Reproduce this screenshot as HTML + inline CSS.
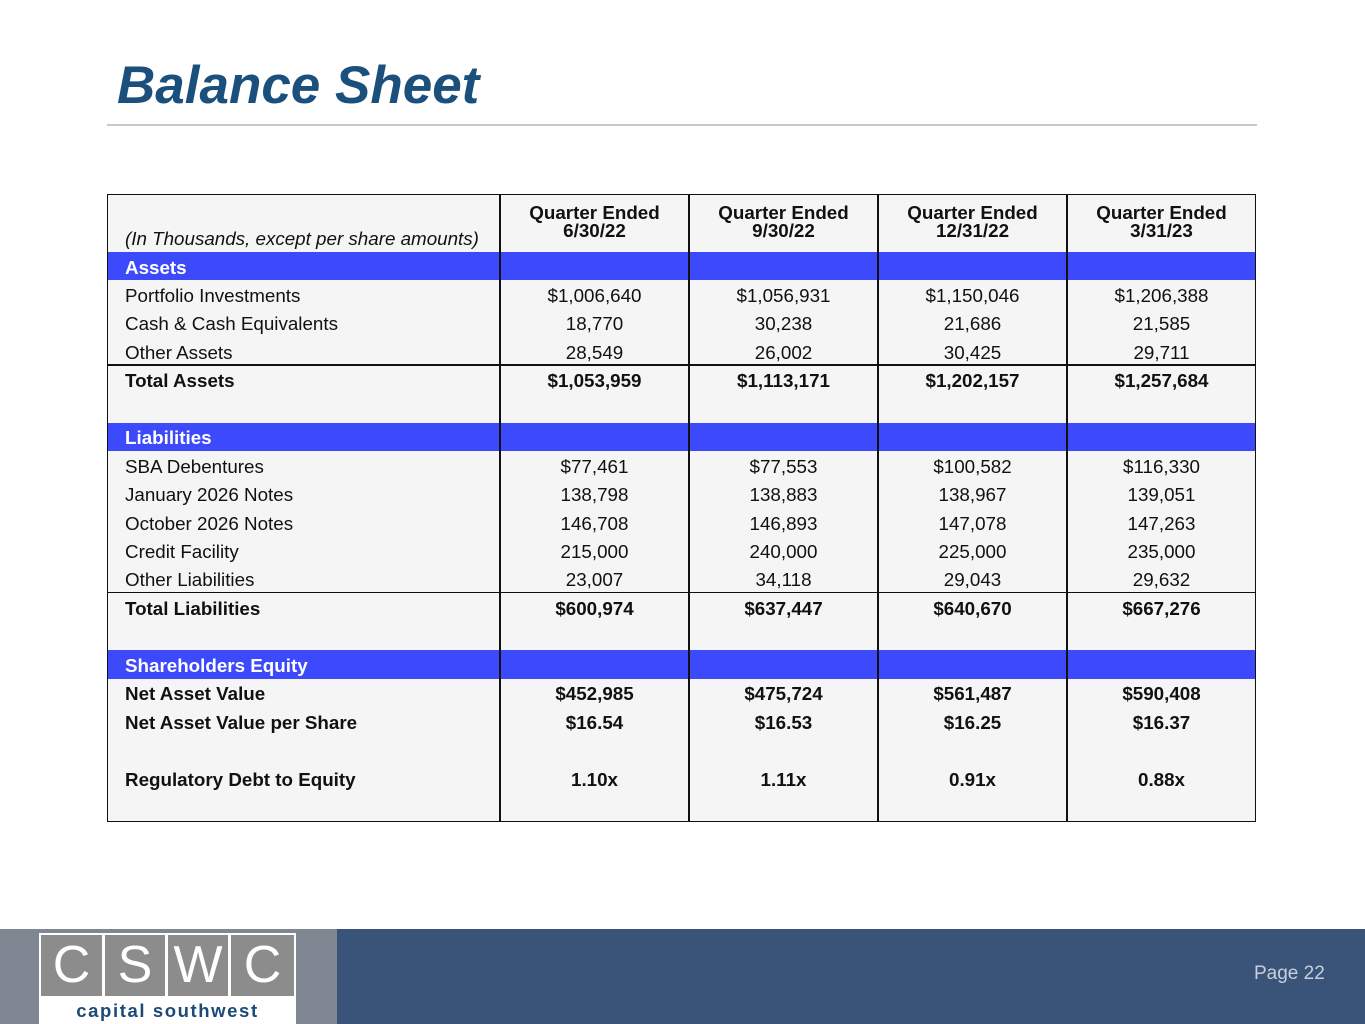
<!DOCTYPE html>
<html><head><meta charset="utf-8"><style>
html,body{margin:0;padding:0}
body{width:1365px;height:1024px;position:relative;background:#fff;font-family:"Liberation Sans",Arial,sans-serif;overflow:hidden}
.abs{position:absolute}
#title{left:117px;top:54px;font-size:53px;font-weight:bold;font-style:italic;color:#1b4f7c;line-height:64px;letter-spacing:0px}
#rule{left:107px;top:124px;width:1150px;height:2px;background:#c8c8c8}
#tbl{left:107px;top:194px;width:1147px;height:626px;background:#f5f5f5;border:1.5px solid #111}
.vl{position:absolute;top:0;width:1.5px;height:626px;background:#111}
.hl{position:absolute;left:0;width:1147px;height:1.5px;background:#111}
.band{position:absolute;left:0;width:1147px;background:#3d4afc}
.cell{position:absolute;font-size:18.8px;color:#111;white-space:nowrap;font-family:"Liberation Sans",Arial,sans-serif}
.hdr{position:absolute;top:9px;font-size:18.8px;font-weight:bold;text-align:center;line-height:18px;color:#111;font-family:"Liberation Sans",Arial,sans-serif}
#footer-l{left:0;top:929px;width:337px;height:95px;background:#7f8792}
#footer-r{left:337px;top:929px;width:1028px;height:95px;background:#3a5479}
#logo{left:39px;top:933px;width:257px;height:91px;background:#fff}
.lb{position:absolute;top:2px;height:61px;background:#8c8c8c;color:#fff;font-size:52px;font-weight:300;text-align:center;line-height:61px}
#logotxt{position:absolute;left:0;top:67px;width:257px;text-align:center;color:#1c4a78;font-size:18.5px;letter-spacing:1.6px;font-weight:bold}
#page{left:1254px;top:963px;color:#c7cfdc;font-size:19px}
</style></head><body>
<div id="title" class="abs">Balance Sheet</div>
<div id="rule" class="abs"></div>
<div id="tbl" class="abs"></div>
<div id="footer-l" class="abs"></div>
<div id="footer-r" class="abs"></div>
<div id="logo" class="abs">
<div class="lb" style="left:2px;width:61px">C</div>
<div class="lb" style="left:66px;width:60px">S</div>
<div class="lb" style="left:129px;width:60px">W</div>
<div class="lb" style="left:192px;width:63px">C</div>
<div id="logotxt">capital southwest</div>
</div>
<div id="page" class="abs">Page 22</div>
<script>
const headers=["6/30/22","9/30/22","12/31/22","3/31/23"];
const labels=["Assets","Portfolio Investments","Cash & Cash Equivalents","Other Assets","Total Assets","","Liabilities","SBA Debentures","January 2026 Notes","October 2026 Notes","Credit Facility","Other Liabilities","Total Liabilities","","Shareholders Equity","Net Asset Value","Net Asset Value per Share","","Regulatory Debt to Equity",""];
const kinds=["band","n","n","n","b","","band","n","n","n","n","n","b","","band","b","b","","b",""];
const values=[
null,
["$1,006,640","$1,056,931","$1,150,046","$1,206,388"],
["18,770","30,238","21,686","21,585"],
["28,549","26,002","30,425","29,711"],
["$1,053,959","$1,113,171","$1,202,157","$1,257,684"],
null,null,
["$77,461","$77,553","$100,582","$116,330"],
["138,798","138,883","138,967","139,051"],
["146,708","146,893","147,078","147,263"],
["215,000","240,000","225,000","235,000"],
["23,007","34,118","29,043","29,632"],
["$600,974","$637,447","$640,670","$667,276"],
null,null,
["$452,985","$475,724","$561,487","$590,408"],
["$16.54","$16.53","$16.25","$16.37"],
null,
["1.10x","1.11x","0.91x","0.88x"],
null];
const tbl=document.getElementById('tbl');
const colX=[392,581,770,959];const colW=189;const rowH=28.45;const top0=57;
function mk(cls,css,txt){const d=document.createElement('div');d.className=cls;d.style.cssText=css;if(txt!==undefined)d.textContent=txt;tbl.appendChild(d);return d;}
for(let i=0;i<labels.length;i++){
 const y=top0+i*rowH;
 if(kinds[i]==='band'){const b=mk('band','top:'+y+'px;height:'+rowH+'px');
  
  
  const t=mk('cell','left:17px;top:'+(y+4.5)+'px;color:#fff;font-weight:bold',labels[i]);
  
  }
 else if(labels[i]){const t=mk('cell','left:17px;top:'+(y+4.5)+'px;'+(kinds[i]==='b'?'font-weight:bold':''),labels[i]);
  
  }
 if(values[i]){for(let c=0;c<4;c++){const v=mk('cell','left:'+colX[c]+'px;width:'+colW+'px;text-align:center;top:'+(y+4.5)+'px;'+(kinds[i]==='b'?'font-weight:bold':''),values[i][c]);
  
  }}
}
for(let c=0;c<4;c++){const l=mk('vl','left:'+(colX[c]-1)+'px');
 
 
 const h=mk('hdr','left:'+colX[c]+'px;width:'+colW+'px');h.innerHTML='Quarter Ended<br>'+headers[c];
 
 }
const note=mk('cell','left:17px;top:33px;font-style:italic','(In Thousands, except per share amounts)');


[4,12].forEach(i=>{const l=mk('hl','top:'+(top0+i*rowH-1.5)+'px');
 
 });
</script>
</body></html>
